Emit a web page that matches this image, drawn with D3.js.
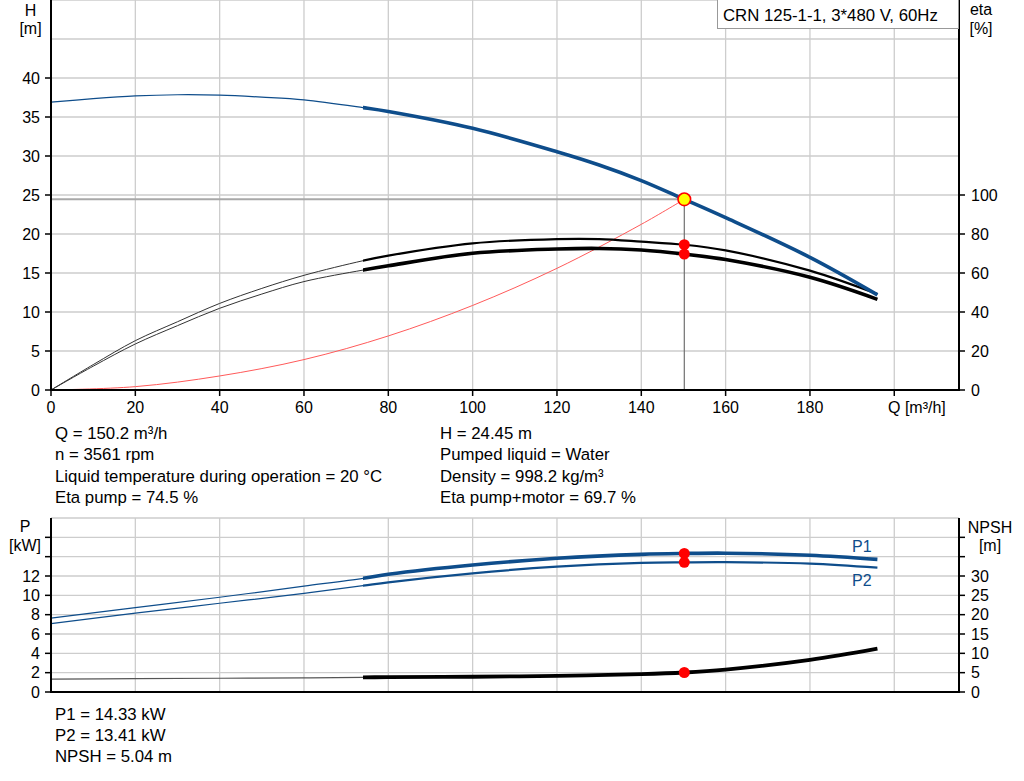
<!DOCTYPE html>
<html><head><meta charset="utf-8">
<script src="https://cdn.jsdelivr.net/npm/d3@7/dist/d3.min.js"></script>
<style>
html,body{margin:0;padding:0;background:#fff;}
svg{display:block;font-family:"Liberation Sans",Arial,sans-serif;}
</style></head>
<body>
<svg id="c" width="1024" height="781"></svg>
<script>
// ---------- data ----------
const flowQ      = [0, 10, 20, 30, 40, 50, 60, 74, 80, 100, 120, 130, 140, 150.2, 160, 180, 196];
const headH      = [36.9, 37.35, 37.7, 37.85, 37.8, 37.55, 37.2, 36.2, 35.7, 33.55, 30.55, 28.85, 26.85, 24.45, 22.1, 17.0, 12.2];
const etaPump    = [0, 13, 25.3, 35, 44.4, 52.1, 58.8, 66.3, 68.9, 75.2, 77.4, 77.4, 76.1, 74.5, 71.6, 61.2, 49.2];
const etaTotal   = [0, 12.2, 23.6, 33, 41.9, 49.2, 55.6, 61.5, 63.7, 70.1, 72.3, 72.6, 71.8, 69.7, 66.9, 57.8, 46.5];
const sysQ       = [0, 20, 40, 60, 80, 100, 120, 140, 150.2];
const sysH       = [0, 0.43, 1.8, 3.9, 6.93, 10.84, 15.6, 21.24, 24.45];
const powQ       = [0, 20, 40, 60, 74, 80, 100, 120, 140, 150.2, 160, 180, 196];
const powerP1    = [7.64, 8.72, 9.8, 10.95, 11.76, 12.18, 13.14, 13.83, 14.24, 14.33, 14.36, 14.15, 13.72];
const powerP2    = [7.08, 8.15, 9.18, 10.2, 11.0, 11.35, 12.28, 12.96, 13.35, 13.41, 13.43, 13.28, 12.86];
const npshR      = [3.35, 3.45, 3.55, 3.65, 3.77, 3.85, 3.95, 4.15, 4.6, 5.04, 5.8, 8.3, 11.2];
const duty = {q: 150.2, h: 24.45, etaP: 74.5, etaT: 69.7, p1: 14.33, p2: 13.41, npsh: 5.04};
const thinUpTo = 74;

const qTicks    = [0, 20, 40, 60, 80, 100, 120, 140, 160, 180];
const qGrid     = [0, 20, 40, 60, 80, 100, 120, 140, 160, 180, 200];
const hTicks    = [0, 5, 10, 15, 20, 25, 30, 35, 40];
const hGrid     = [0, 5, 10, 15, 20, 25, 30, 35, 40, 45, 50];
const etaTicks  = [0, 20, 40, 60, 80, 100];
const pTicks    = [0, 2, 4, 6, 8, 10, 12, 14, 16];
const pLabels   = [0, 2, 4, 6, 8, 10, 12];
const pGrid     = [0, 2, 4, 6, 8, 10, 12, 14, 16, 18];
const nTicks    = [0, 5, 10, 15, 20, 25, 30, 35, 40];
const nLabels   = [0, 5, 10, 15, 20, 25, 30];

const titleText = "CRN 125-1-1, 3*480 V, 60Hz";
const infoLeft  = ["Q = 150.2 m³/h", "n = 3561 rpm", "Liquid temperature during operation = 20 °C", "Eta pump = 74.5 %"];
const infoRight = ["H = 24.45 m", "Pumped liquid = Water", "Density = 998.2 kg/m³", "Eta pump+motor = 69.7 %"];
const infoPower = ["P1 = 14.33 kW", "P2 = 13.41 kW", "NPSH = 5.04 m"];

// ---------- scales ----------
const X0 = 51, X1 = 959;
const x = d3.scaleLinear().domain([0, 215.35]).range([X0, X1]);
const yH = d3.scaleLinear().domain([0, 50]).range([390, 0]);
const yE = d3.scaleLinear().domain([0, 200]).range([390, 0]);
const yP = d3.scaleLinear().domain([0, 18]).range([692, 518]);
const yN = d3.scaleLinear().domain([0, 45]).range([692, 518]);

const svg = d3.select("#c");
const BLUE = "#0e4d8b";
const GRID = "#cdcdcd";
const FS = 16;
const FT = 16.8;

const defs = svg.append("defs");
defs.append("clipPath").attr("id", "clipThin").append("rect")
  .attr("x", 0).attr("y", 0).attr("width", x(thinUpTo)).attr("height", 781);
defs.append("clipPath").attr("id", "clipThick").append("rect")
  .attr("x", x(thinUpTo)).attr("y", 0).attr("width", 1024).attr("height", 781);

function grid(yScale, yvals, yTop, yBot) {
  const g = svg.append("g");
  g.selectAll(".gv").data(qGrid).join("line")
    .attr("x1", d => x(d)).attr("x2", d => x(d))
    .attr("y1", yTop).attr("y2", yBot)
    .attr("stroke", GRID).attr("stroke-width", 1.3);
  g.selectAll(".gh").data(yvals).join("line")
    .attr("x1", X0).attr("x2", X1)
    .attr("y1", d => yScale(d)).attr("y2", d => yScale(d))
    .attr("stroke", GRID).attr("stroke-width", 1.3);
}
grid(yH, hGrid, 0, 390);
grid(yP, pGrid, 518, 692);

// ---------- curves ----------
function curve(qs, vs, yScale, color, thinW, thickW, thinColor) {
  const pts = qs.map((q, i) => [q, vs[i]]);
  const line = d3.line().x(d => x(d[0])).y(d => yScale(d[1])).curve(d3.curveCatmullRom.alpha(0.5));
  const d = line(pts);
  svg.append("path").attr("d", d).attr("fill", "none").attr("clip-path", "url(#clipThin)")
    .attr("stroke", thinColor || color).attr("stroke-width", thinW);
  svg.append("path").attr("d", d).attr("fill", "none").attr("clip-path", "url(#clipThick)")
    .attr("stroke", color).attr("stroke-width", thickW);
}

// duty helper lines
svg.append("line").attr("x1", X0).attr("x2", x(duty.q))
  .attr("y1", yH(duty.h)).attr("y2", yH(duty.h))
  .attr("stroke", "#a8a8a8").attr("stroke-width", 2);
svg.append("line").attr("x1", x(duty.q)).attr("x2", x(duty.q))
  .attr("y1", yH(duty.h)).attr("y2", 390)
  .attr("stroke", "#707070").attr("stroke-width", 1.2);

// system curve
svg.append("path")
  .attr("d", d3.line().x((d, i) => x(sysQ[i])).y(d => yH(d)).curve(d3.curveCatmullRom.alpha(0.5))(sysH))
  .attr("fill", "none").attr("stroke", "#ff5a5a").attr("stroke-width", 1);

curve(flowQ, etaPump, yE, "#000", 1, 2.2, "#333");
curve(flowQ, etaTotal, yE, "#000", 1, 3.6, "#333");
curve(flowQ, headH, yH, BLUE, 1.2, 3.6);

curve(powQ, powerP1, yP, BLUE, 1.2, 3.6);
curve(powQ, powerP2, yP, BLUE, 1.2, 2.2);
curve(powQ, npshR, yN, "#000", 1.2, 3.8, "#555");

// markers
[yE(duty.etaP), yE(duty.etaT), yP(duty.p1), yP(duty.p2), yN(duty.npsh)].forEach(cy => {
  svg.append("circle").attr("cx", x(duty.q)).attr("cy", cy).attr("r", 5.5).attr("fill", "#ff0000");
});
svg.append("circle").attr("cx", x(duty.q)).attr("cy", yH(duty.h)).attr("r", 6.3)
  .attr("fill", "#ffff00").attr("stroke", "#ff0000").attr("stroke-width", 1.6);

// ---------- axes ----------
function axisLine(x1, y1, x2, y2) {
  svg.append("line").attr("x1", x1).attr("y1", y1).attr("x2", x2).attr("y2", y2)
    .attr("stroke", "#000").attr("stroke-width", 2);
}
axisLine(X0, 0, X0, 391);
axisLine(X1, 0, X1, 391);
axisLine(X0 - 1, 390, X1 + 1, 390);
axisLine(X0, 518, X0, 693);
axisLine(X1, 518, X1, 693);
axisLine(X0 - 1, 692, X1 + 1, 692);

function ticks(g, vals, scale, side, labels) {
  g.selectAll("line").data(vals).join("line")
    .attr("x1", side === "left" ? X0 - 6 : X1).attr("x2", side === "left" ? X0 : X1 + 6)
    .attr("y1", d => scale(d)).attr("y2", d => scale(d))
    .attr("stroke", "#000").attr("stroke-width", 1.5);
  g.selectAll("text").data(labels).join("text")
    .attr("x", side === "left" ? 40 : 971)
    .attr("y", d => scale(d) + 5.8)
    .attr("text-anchor", side === "left" ? "end" : "start")
    .attr("font-size", FS).attr("fill", "#000").text(d => d);
}
ticks(svg.append("g"), hTicks, yH, "left", hTicks);
ticks(svg.append("g"), etaTicks, yE, "right", etaTicks);
ticks(svg.append("g"), pTicks, yP, "left", pLabels);
ticks(svg.append("g"), nTicks, yN, "right", nLabels);

const gx = svg.append("g");
gx.selectAll("line").data(qTicks.concat([200])).join("line")
  .attr("x1", d => x(d)).attr("x2", d => x(d)).attr("y1", 390).attr("y2", 396)
  .attr("stroke", "#000").attr("stroke-width", 1.5);
gx.selectAll("text").data(qTicks).join("text")
  .attr("x", d => x(d)).attr("y", 413).attr("text-anchor", "middle")
  .attr("font-size", FS).text(d => d);

function label(t, xx, yy, anchor, color, fs) {
  svg.append("text").attr("x", xx).attr("y", yy).attr("text-anchor", anchor || "middle")
    .attr("font-size", fs || FS).attr("fill", color || "#000").text(t);
}
label("H", 30.5, 16);
label("[m]", 30.5, 34);
label("eta", 981, 15);
label("[%]", 981, 34);
label("Q [m³/h]", 888, 413, "start");
label("P", 25, 532);
label("[kW]", 25, 551);
label("NPSH", 990, 533);
label("[m]", 990, 551);
label("P1", 852, 552, "start", BLUE);
label("P2", 852, 586, "start", BLUE);

// title box
svg.append("rect").attr("x", 717.5).attr("y", -1).attr("width", 241).attr("height", 29.5)
  .attr("fill", "#fff").attr("stroke", "#999").attr("stroke-width", 1);
label(titleText, 723, 21, "start", "#000", FT);

// info blocks
infoLeft.forEach((t, i) => label(t, 55, 439 + i * 21.3, "start", "#000", FT));
infoRight.forEach((t, i) => label(t, 440, 439 + i * 21.3, "start", "#000", FT));
infoPower.forEach((t, i) => label(t, 55, 719.5 + i * 21, "start", "#000", FT));
</script>
</body></html>
